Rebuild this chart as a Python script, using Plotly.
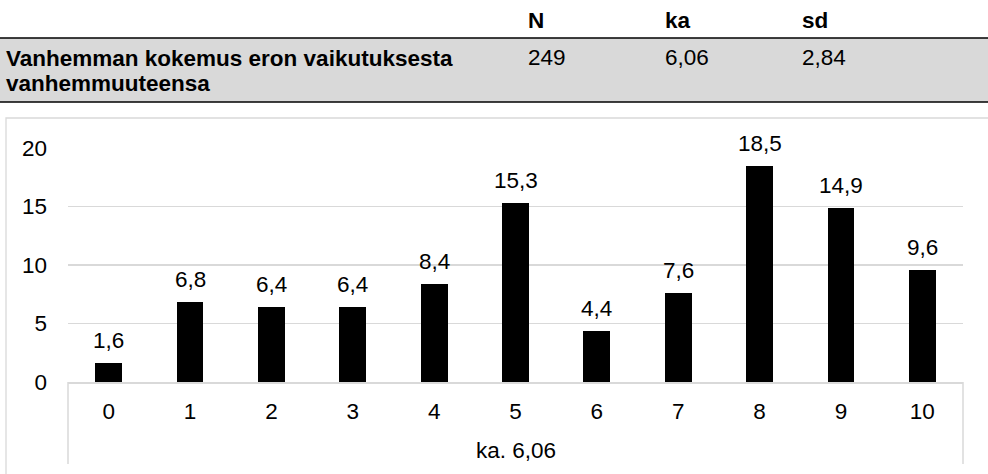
import plotly.graph_objects as go

# ---- data ----
categories = ["0", "1", "2", "3", "4", "5", "6", "7", "8", "9", "10"]
values = [1.6, 6.8, 6.4, 6.4, 8.4, 15.3, 4.4, 7.6, 18.5, 14.9, 9.6]
value_labels = ["1,6", "6,8", "6,4", "6,4", "8,4", "15,3", "4,4", "7,6", "18,5", "14,9", "9,6"]
axis_group_label = "ka. 6,06"

table_headers = ["N", "ka", "sd"]
table_row_label_lines = ["Vanhemman kokemus eron vaikutuksesta", "vanhemmuuteensa"]
table_row_values = ["249", "6,06", "2,84"]

# ---- layout geometry (pixels) ----
W, Hpx = 988, 474
L, R, T, B = 68, 963, 148, 382
PW, PH = R - L, B - T
FONT = "Liberation Sans, Arial, sans-serif"
FS = 22.5


def px(x):
    return (x - L) / PW


def py(y):
    return (B - y) / PH


fig = go.Figure()
fig.add_trace(go.Bar(
    x=categories, y=values, width=0.33,
    marker=dict(color="#000000", line=dict(width=0)),
    hoverinfo="skip",
))

annotations = []
for c, v, t in zip(categories, values, value_labels):
    annotations.append(dict(x=c, y=v, xref="x", yref="y", text=t, showarrow=False,
                            yanchor="bottom", yshift=8,
                            font=dict(family=FONT, size=FS, color="#000")))

annotations.append(dict(x=0.5, y=py(450), xref="paper", yref="paper", text=axis_group_label,
                        showarrow=False, xanchor="center", yanchor="middle",
                        font=dict(family=FONT, size=FS, color="#000")))

# table texts
header_x = [526, 663, 800]
for hx, h in zip(header_x, table_headers):
    annotations.append(dict(x=px(hx), y=py(20.5), xref="paper", yref="paper", text="<b>%s</b>" % h,
                            showarrow=False, xanchor="left", yanchor="middle",
                            font=dict(family=FONT, size=FS, color="#000")))
for hx, v in zip(header_x, table_row_values):
    annotations.append(dict(x=px(hx), y=py(57.5), xref="paper", yref="paper", text=v,
                            showarrow=False, xanchor="left", yanchor="middle",
                            font=dict(family=FONT, size=FS, color="#000")))
for i, line in enumerate(table_row_label_lines):
    annotations.append(dict(x=px(4), y=py(58.5 + 25 * i), xref="paper", yref="paper",
                            text="<b>%s</b>" % line,
                            showarrow=False, xanchor="left", yanchor="middle", align="left",
                            font=dict(family=FONT, size=FS, color="#000")))

shapes = [
    # table grey row
    dict(type="rect", xref="paper", yref="paper", x0=px(-5), x1=px(995), y0=py(38), y1=py(102),
         fillcolor="#d9d9d9", line=dict(width=0), layer="below"),
    dict(type="line", xref="paper", yref="paper", x0=px(-5), x1=px(995), y0=py(38), y1=py(38),
         line=dict(color="#000", width=1.5)),
    dict(type="line", xref="paper", yref="paper", x0=px(-5), x1=px(995), y0=py(102), y1=py(102),
         line=dict(color="#000", width=1.5)),
    # chart frame
    dict(type="path", xref="paper", yref="paper",
         path="M %f %f L %f %f L %f %f" % (px(6), py(480), px(6), py(118), px(995), py(118)),
         line=dict(color="#d9d9d9", width=1.3)),
    # category axis separators
    dict(type="line", xref="paper", yref="paper", x0=0, x1=0, y0=0, y1=py(464),
         line=dict(color="#d9d9d9", width=1.5)),
    dict(type="line", xref="paper", yref="paper", x0=1, x1=1, y0=0, y1=py(464),
         line=dict(color="#d9d9d9", width=1.5)),
]

fig.update_layout(
    width=W, height=Hpx,
    margin=dict(l=L, r=W - R, t=T, b=Hpx - B, pad=0),
    paper_bgcolor="#ffffff", plot_bgcolor="#ffffff",
    showlegend=False,
    annotations=annotations, shapes=shapes,
    font=dict(family=FONT, size=FS, color="#000"),
    bargap=0,
)
fig.update_xaxes(type="category", showgrid=False, showline=True, linecolor="#d9d9d9", linewidth=1.5,
                 ticks="", ticklabelstandoff=8, tickfont=dict(family=FONT, size=FS, color="#000"),
                 zeroline=False, fixedrange=True)
fig.update_yaxes(range=[0, 20], dtick=5, tick0=0, showgrid=True, gridcolor="#d9d9d9", gridwidth=1.5,
                 zeroline=False, showline=False, ticks="", ticklabelstandoff=20,
                 tickfont=dict(family=FONT, size=FS, color="#000"), fixedrange=True)

fig.write_html("out.html", config={"displayModeBar": False, "staticPlot": True},
               post_script="document.body.style.margin='0';document.body.style.overflow='hidden';")
